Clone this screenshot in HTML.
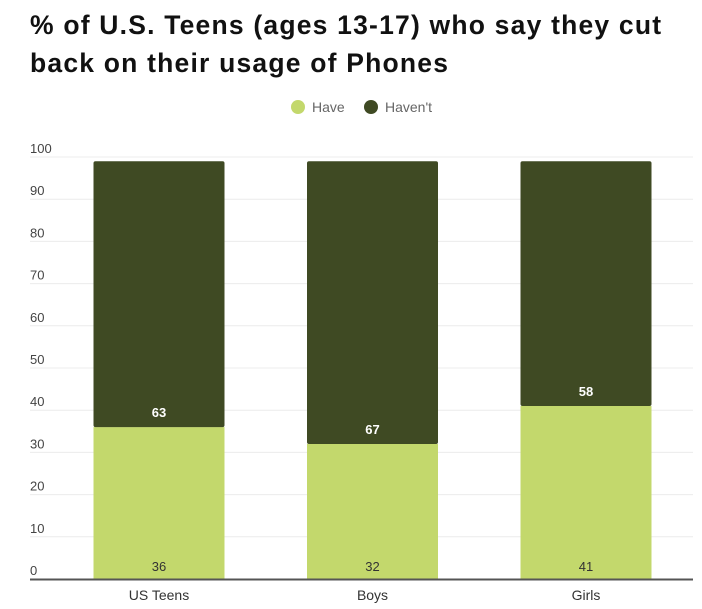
<!DOCTYPE html>
<html><head><meta charset="utf-8"><style>
body{margin:0;background:#fff;width:702px;height:609px;overflow:hidden;font-family:"Liberation Sans",sans-serif}
h1{position:absolute;left:30px;top:6px;margin:0;font-size:26.5px;line-height:38px;font-weight:bold;color:#111;letter-spacing:1.2px;white-space:nowrap}
</style></head><body>
<h1>% of U.S. Teens (ages 13-17) who say they cut<br>back on their usage of Phones</h1>
<svg id="c" width="702" height="609" style="position:absolute;left:0;top:0"></svg>
<script>
const categories=["US Teens","Boys","Girls"];
const haveVals=[36,32,41];
const haventVals=[63,67,58];
const yTicks=[0,10,20,30,40,50,60,70,80,90,100];
const svg=document.getElementById('c');
const NS='http://www.w3.org/2000/svg';
const y0=579,pxPer=4.22,left=30,right=693;
const y=v=>y0-v*pxPer;
const xC=i=>159+i*213.5;
const bw=131;
function mk(t,a,txt){const e=document.createElementNS(NS,t);for(const k in a)e.setAttribute(k,a[k]);if(txt!==undefined)e.textContent=txt;svg.appendChild(e);return e;}
let e=mk('circle',{cx:298,cy:107,r:7,fill:'#c3d86c'});


e=mk('text',{x:312,y:112,'font-size':14,fill:'#666'},'Have');


e=mk('circle',{cx:371,cy:107,r:7,fill:'#3f4a23'});


e=mk('text',{x:385,y:112,'font-size':14,fill:'#666'},"Haven't");


yTicks.forEach(t=>{
  if(t>0){const g=mk('line',{x1:left,x2:right,y1:y(t),y2:y(t),stroke:'#ececec','stroke-width':1});
  
  }
  const l=mk('text',{x:left,y:y(t)-4,'font-size':13,fill:'#444'},t);
  
  
});
categories.forEach((c,i)=>{
  const x=xC(i)-bw/2,h=haveVals[i],n=haventVals[i];
  let r=mk('rect',{x:x,y:y(h),width:bw,height:h*pxPer,fill:'#c3d86c'});
  
  
  r=mk('rect',{x:x,y:y(h+n),width:bw,height:n*pxPer,fill:'#3f4a23',rx:2});
  
  
  let t=mk('text',{x:xC(i),y:y0-8,'font-size':13,fill:'#333','text-anchor':'middle'},h);
  
  
  t=mk('text',{x:xC(i),y:y(h)-10,'font-size':13,'font-weight':'bold',fill:'#fff','text-anchor':'middle'},n);
  
  
  t=mk('text',{x:xC(i),y:600,'font-size':14,fill:'#333','text-anchor':'middle'},c);
  
  
});
e=mk('line',{x1:left,x2:right,y1:y0+0.5,y2:y0+0.5,stroke:'#555','stroke-width':2});


</script>
</body></html>
